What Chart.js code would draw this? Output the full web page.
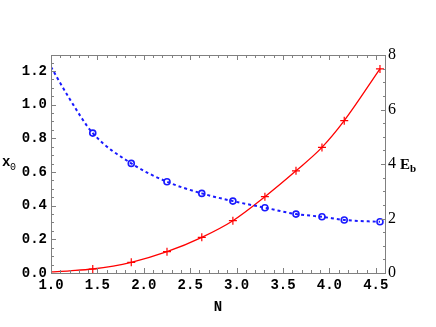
<!DOCTYPE html>
<html>
<head>
<meta charset="utf-8">
<script src="https://cdn.jsdelivr.net/npm/chart.js@4"></script>
<style>
  html, body { margin: 0; padding: 0; background: #fff; }
  #wrap { width: 436px; height: 327px; }
</style>
</head>
<body>
<div id="wrap"><canvas id="chart" width="436" height="327"></canvas></div>
<script>
// values
const nValues = [1.45, 1.865, 2.25, 2.625, 2.96, 3.305, 3.64, 3.92, 4.16, 4.545];
const x0Values = [0.831, 0.651, 0.542, 0.473, 0.427, 0.388, 0.350, 0.334, 0.315, 0.304];
const ebValues = [0.147, 0.393, 0.782, 1.31, 1.92, 2.80, 3.75, 4.61, 5.59, 7.49];
// where the fitted curves start (left edge)
const curveStartN = [1.0, 1.2];
const x0CurveStart = [1.224, 1.035];
const ebCurveStart = [0.04, 0.08];

const xMajor = 0.5, x0Major = 0.2, ebMajor = 2;

const pts = (xs, ys) => xs.map((x, i) => ({ x: x, y: ys[i] }));
const isMajor = (v, step) => Math.abs(v / step - Math.round(v / step)) < 1e-6;

const frameTicks = {
  id: 'frameTicks',
  afterDraw(chart) {
    const { ctx, chartArea: a, scales } = chart;
    ctx.save();
    ctx.strokeStyle = '#808080';
    ctx.lineWidth = 1;
    ctx.strokeRect(a.left + 0.5, a.top + 0.5, a.right - a.left - 1, a.bottom - a.top);
    ctx.beginPath();
    scales.x.ticks.forEach(t => {
      const px = Math.round(scales.x.getPixelForValue(t.value)) + 0.5;
      const len = isMajor(t.value, xMajor) ? 5 : 3;
      ctx.moveTo(px, a.bottom); ctx.lineTo(px, a.bottom - len);
      ctx.moveTo(px, a.top); ctx.lineTo(px, a.top + len);
    });
    scales.y.ticks.forEach(t => {
      const py = Math.round(scales.y.getPixelForValue(t.value)) + 0.5;
      const len = isMajor(t.value, x0Major) ? 5 : 3;
      ctx.moveTo(a.left, py); ctx.lineTo(a.left + len, py);
    });
    scales.y2.ticks.forEach(t => {
      const py = Math.round(scales.y2.getPixelForValue(t.value)) + 0.5;
      const len = isMajor(t.value, ebMajor) ? 5 : 3;
      ctx.moveTo(a.right, py); ctx.lineTo(a.right - len, py);
    });
    ctx.stroke();

    // axis titles
    ctx.fillStyle = '#000';
    ctx.textBaseline = 'alphabetic';
    ctx.font = 'bold 14px "Liberation Mono"';
    ctx.fillText('x', 2, 166);
    ctx.font = '10px "Liberation Mono"';
    ctx.fillText('0', 10, 170);
    ctx.font = 'bold 15px "Liberation Serif"';
    ctx.fillText('E', 400, 169);
    ctx.font = 'bold 11px "Liberation Serif"';
    ctx.fillText('b', 410, 172);
    ctx.font = 'bold 14px "Liberation Mono"';
    ctx.textAlign = 'center';
    ctx.fillText('N', 218, 311);
    ctx.restore();
  }
};

const monoFont = { family: '"Liberation Mono"', size: 14, weight: 'bold' };

new Chart(document.getElementById('chart'), {
  type: 'scatter',
  data: {
    datasets: [
      {
        label: 'x0 fit',
        type: 'line',
        data: pts(curveStartN.concat(nValues), x0CurveStart.concat(x0Values)),
        yAxisID: 'y',
        borderColor: '#1a1aff',
        borderWidth: 2,
        borderDash: [3, 3],
        pointRadius: 0,
        cubicInterpolationMode: 'monotone',
        fill: false
      },
      {
        label: 'x0',
        data: pts(nValues, x0Values),
        yAxisID: 'y',
        pointStyle: 'circle',
        pointRadius: 3,
        borderColor: '#1a1aff',
        borderWidth: 1.6,
        backgroundColor: 'rgba(255,255,255,0)'
      },
      {
        label: 'Eb fit',
        type: 'line',
        data: pts(curveStartN.concat(nValues), ebCurveStart.concat(ebValues)),
        yAxisID: 'y2',
        borderColor: '#ff0000',
        borderWidth: 1.3,
        pointRadius: 0,
        cubicInterpolationMode: 'monotone',
        fill: false
      },
      {
        label: 'Eb',
        data: pts(nValues, ebValues),
        yAxisID: 'y2',
        pointStyle: 'cross',
        pointRadius: 4,
        borderColor: '#ff0000',
        borderWidth: 1.2
      }
    ]
  },
  options: {
    responsive: false,
    animation: false,
    layout: { padding: { top: 55, left: 0, right: 0, bottom: 0 } },
    plugins: { legend: { display: false }, tooltip: { enabled: false } },
    scales: {
      x: {
        type: 'linear',
        min: 1.0,
        max: 4.61,
        grid: { display: false, drawTicks: false },
        border: { display: false },
        afterFit: s => { s.height = 54; },
        ticks: {
          stepSize: 0.1,
          autoSkip: false,
          includeBounds: false,
          maxRotation: 0,
          padding: 4,
          color: '#000',
          font: monoFont,
          callback: v => isMajor(v, xMajor) ? v.toFixed(1) : ''
        }
      },
      y: {
        position: 'left',
        min: 0,
        max: 1.295,
        grid: { display: false, drawTicks: false },
        border: { display: false },
        afterFit: s => { s.width = 51; },
        ticks: {
          stepSize: 0.05,
          autoSkip: false,
          includeBounds: false,
          padding: 4,
          color: '#000',
          font: monoFont,
          callback: v => isMajor(v, x0Major) ? v.toFixed(1) : ''
        }
      },
      y2: {
        position: 'right',
        min: 0,
        max: 8,
        grid: { display: false, drawTicks: false },
        border: { display: false },
        afterFit: s => { s.width = 50; },
        ticks: {
          stepSize: 0.5,
          autoSkip: false,
          padding: 2,
          color: '#000',
          font: { family: '"Liberation Serif"', size: 16 },
          callback: v => isMajor(v, ebMajor) ? String(v) : ''
        }
      }
    }
  },
  plugins: [frameTicks]
});
</script>
</body>
</html>
